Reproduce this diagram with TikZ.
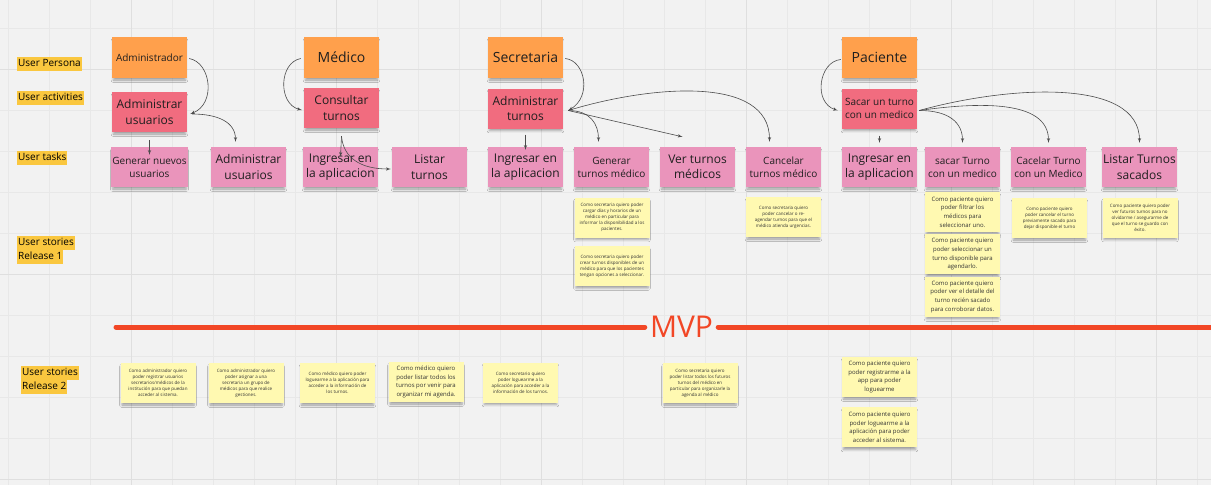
\documentclass[tikz,border=0pt]{standalone}
\usepackage{fontspec}
\setmainfont{Open Sans}
\usepackage{xcolor}
\usepackage{tikz}
\usetikzlibrary{shapes,arrows,positioning,calc,arrows.meta,shadows.blur}
\definecolor{bgc}{HTML}{F2F2F2}
\definecolor{gridc}{HTML}{E8E8E8}
\definecolor{gridm}{HTML}{DFDFDF}
\definecolor{personac}{HTML}{FFA04C}
\definecolor{actc}{HTML}{F16C7F}
\definecolor{taskc}{HTML}{EA94BB}
\definecolor{storyc}{HTML}{FFF9B1}
\definecolor{lblc}{HTML}{FAC73F}
\definecolor{mvpc}{HTML}{F24726}

\begin{document}
\begin{tikzpicture}[x=1pt, y=-1pt,
        sticky/.style={rectangle, minimum width=75pt, minimum height=41pt, inner sep=1pt, align=center, text=black!88,
            blur shadow={shadow xshift=0pt, shadow yshift=-3pt, shadow blur radius=2.5pt, shadow opacity=35, shadow scale=0.96}},
        persona/.style={sticky, fill=personac},
        act/.style={sticky, fill=actc, minimum height=40pt},
        task/.style={sticky, fill=taskc, minimum height=40pt},
        story/.style={sticky, fill=storyc, minimum height=40pt, text=black!80, font=\fontsize{4.5}{6}\selectfont},
        bigstory/.style={story, font=\fontsize{6}{8.6}\selectfont},
        big/.style={font=\fontsize{12}{15.5}\selectfont},
        huge/.style={font=\fontsize{14}{16}\selectfont},
        small/.style={font=\fontsize{10}{13}\selectfont},
        lbl/.style={fill=lblc, anchor=north west, inner xsep=1pt, inner ysep=2pt, text height=7.5pt, text depth=2.5pt, font=\fontsize{10}{12}\selectfont},
        line/.style={draw=black!70, -latex', line width=0.6pt},
        mvpline/.style={draw=mvpc, line width=5pt, line cap=round}]
        \useasboundingbox (0,0) rectangle (1211,485);
        \fill[bgc] (0,0) rectangle (1211,485);
        \foreach \x in {8,49,...,1197} \draw[gridc, line width=0.6pt] (\x,0) -- (\x,485);
        \foreach \y in {28,69,...,479} \draw[gridc, line width=0.6pt] (0,\y) -- (1211,\y);
        \foreach \x in {131,336,...,1156} \draw[gridm, line width=0.8pt] (\x,0) -- (\x,485);
        \foreach \y in {69,274,479} \draw[gridm, line width=0.8pt] (0,\y) -- (1211,\y);

        % row labels
        \node[lbl] (lpers) at (17,56.5) {User Persona};
        \node[lbl] (lact) at (17,90.5) {User activities};
        \node[lbl] (ltask) at (17,150.5) {User tasks};
        \node[lbl] (lst1) at (17,235.5) {User stories};
        \node[lbl] (lrel1) at (lst1.south west) {Release 1};
        \node[lbl] (lst2) at (21,365.5) {User stories};
        \node[lbl] (lrel2) at (lst2.south west) {Release 2};

        % personas
        \node[persona, small] (padmin) at (149.5,57.5) {Administrador};
        \node[persona, huge] (pmed) at (341.5,57.5) {Médico};
        \node[persona, huge] (psec) at (525.5,57.5) {Secretaria};
        \node[persona, huge] (ppac) at (879.5,57.5) {Paciente};

        % activities
        \node[act, big] (aadmin) at (149.5,112) {Administrar\\usuarios};
        \node[act, big] (amed) at (341.5,108) {Consultar\\turnos};
        \node[act, big] (asec) at (525.5,108.5) {Administrar\\turnos};
        \node[act, small] (apac) at (879.5,108.5) {Sacar un turno\\con un medico};

        % tasks
        \node[task, small] (tgen) at (149.5,167) {Generar nuevos\\usuarios};
        \node[task, big] (tadmin) at (248.5,167) {Administrar\\usuarios};
        \node[task, big] (tingmed) at (340.5,167) {Ingresar en\\la aplicacion};
        \node[task, big] (tlistmed) at (429.5,167) {Listar\\turnos};
        \node[task, big] (tingsec) at (525.5,167) {Ingresar en\\la aplicacion};
        \node[task, small] (tgenturn) at (611.5,167) {Generar\\turnos médico};
        \node[task, big] (tver) at (697.5,167) {Ver turnos\\médicos};
        \node[task, small] (tcancel) at (783.5,167) {Cancelar\\turnos médico};
        \node[task, big] (tingpac) at (879.5,167) {Ingresar en\\la aplicacion};
        \node[task, small] (tsacar) at (962.5,167) {sacar Turno\\con un medico};
        \node[task, small] (tcacelar) at (1048.5,167) {Cacelar Turno\\con un Medico};
        \node[task, big] (tlistpac) at (1139.5,167) {Listar Turnos\\sacados};

        % stories release 1
        \node[story] (s1sec1) at (612,217.5) {Como secretaria quiero poder\\cargar días y horarios de un\\médico en particular para\\informar la disponibilidad a los\\pacientes.};
        \node[story, below=8pt of s1sec1] (s1sec2) {Como secretaria quiero poder\\crear turnos disponibles de un\\médico para que los pacientes\\tengan opciones a seleccionar.};
        \node[story] (s1cancel) at (783.5,217) {Como secretaria quiero\\poder cancelar o re-\\agendar turnos para que el\\médico atienda urgencias.};
        \node[bigstory] (s1pac1) at (962.5,212) {Como paciente quiero\\poder filtrar los\\médicos para\\seleccionar uno.};
        \node[bigstory, below=2pt of s1pac1] (s1pac2) {Como paciente quiero\\poder seleccionar un\\turno disponible para\\agendarlo.};
        \node[bigstory, below=2pt of s1pac2] (s1pac3) {Como paciente quiero\\poder ver el detalle del\\turno recién sacado\\para corroborar datos.};
        \node[story] (s1pcancel) at (1049.5,218) {Como paciente quiero\\poder cancelar el turno\\previamente sacado para\\dejar disponible el turno};
        \node[story] (s1plist) at (1140,217.5) {Como paciente quiero poder\\ver futuros turnos para no\\olvidarme / asegurarme de\\que el turno se guardo con\\éxito.};

        % MVP
        \coordinate (mvpl) at (116,327);
        \coordinate (mvpr) at (1215,327);
        \node[text=mvpc, font=\fontsize{30}{30}\selectfont, inner sep=5pt] (mvp) at (681.5,327) {MVP};
        \draw[mvpline] (mvpl) -- (mvp.west);
        \draw[mvpline] (mvp.east) -- (mvpr);

        % stories release 2
        \node[story] (s2admin1) at (158,383) {Como administrador quiero\\poder registrar usuarios\\secretarios/médicos de la\\institución para que puedan\\acceder al sistema.};
        \node[story] (s2admin2) at (246,383) {Como administrador quiero\\poder asignar a una\\secretaria un grupo de\\médicos para que realice\\gestiones.};
        \node[story] (s2med1) at (337.5,383) {Como médico quiero poder\\loguearme a la aplicación para\\acceder a la información de\\los turnos.};
        \node[bigstory] (s2med2) at (426,382) {Como médico quiero\\poder listar todos los\\turnos por venir para\\organizar mi agenda.};
        \node[story] (s2sec) at (520.5,382.5) {Como secretario quiero\\poder loguearme a la\\aplicación para acceder a la\\información de los turnos.};
        \node[story] (s2sec2) at (700,383) {Como secretaria quiero\\poder listar todos los futuros\\turnos del médico en\\particular para organizarle la\\agenda al médico};
        \node[bigstory] (s2pac1) at (879.5,377) {Como paciente quiero\\poder registrarme a la\\app para poder\\loguearme};
        \node[bigstory, below=10pt of s2pac1] (s2pac2) {Como paciente quiero\\poder loguearme a la\\aplicación para poder\\acceder al sistema.};

        % connectors
        \path[line] ([xshift=2pt,yshift=-1pt]padmin.east) .. controls +(22,4) and +(26,-10) .. ([xshift=3pt,yshift=-2pt]aadmin.east);
        \path[line] ([xshift=5pt,yshift=-2pt]aadmin.east) .. controls +(25,0) and +(0,-20) .. ([xshift=-13pt,yshift=5pt]tadmin.north);
        \path[line] ([yshift=-8pt]aadmin.south) -- ([yshift=-8pt]tgen.north);

        \path[line] ([xshift=-3pt,yshift=-1pt]pmed.west) .. controls +(-22,4) and +(-24,-6) .. ([xshift=-2pt,yshift=-2pt]amed.west);
        \path[line] ([yshift=-8pt]amed.south) -- ([yshift=-10pt]tingmed.north);
        \path[line] ([yshift=-8pt]amed.south) .. controls +(2,22) and +(-30,0) .. ([xshift=-1pt,yshift=-2pt]tlistmed.west);

        \path[line] ([xshift=2pt,yshift=-1pt]psec.east) .. controls +(20,2) and +(24,-14) .. ([xshift=5pt,yshift=-2pt]asec.east);
        \path[line] ([xshift=5pt,yshift=-2pt]asec.east) .. controls +(22,0) and +(0,-18) .. ([xshift=-13pt,yshift=5pt]tgenturn.north);
        \path[line] ([xshift=5pt,yshift=-2pt]asec.east) -- ([xshift=-15pt,yshift=10pt]tver.north);
        \path[line] ([xshift=5pt,yshift=-2pt]asec.east) .. controls +(82,-25) and +(0,-67) .. ([xshift=-14pt,yshift=5pt]tcancel.north);
        \path[line] ([yshift=-6pt]asec.south) -- ([yshift=-3pt]tingsec.north);

        \path[line] ([xshift=-1pt,yshift=-2pt]ppac.west) .. controls +(-22,2) and +(-25,-8) .. ([xshift=-4pt,yshift=-2pt]apac.west);
        \path[line] ([xshift=2pt,yshift=-2pt]apac.east) .. controls +(30,0) and +(0,-20) .. ([yshift=4pt]tsacar.north);
        \path[line] ([xshift=2pt,yshift=-2pt]apac.east) .. controls +(70,-10) and +(0,-40) .. ([yshift=4pt]tcacelar.north);
        \path[line] ([xshift=2pt,yshift=-2pt]apac.east) .. controls +(90,-25) and +(0,-65) .. ([yshift=4pt]tlistpac.north);
        \path[line] ([yshift=-7pt]apac.south) -- ([yshift=4pt]tingpac.north);
    \end{tikzpicture}
\end{document}
